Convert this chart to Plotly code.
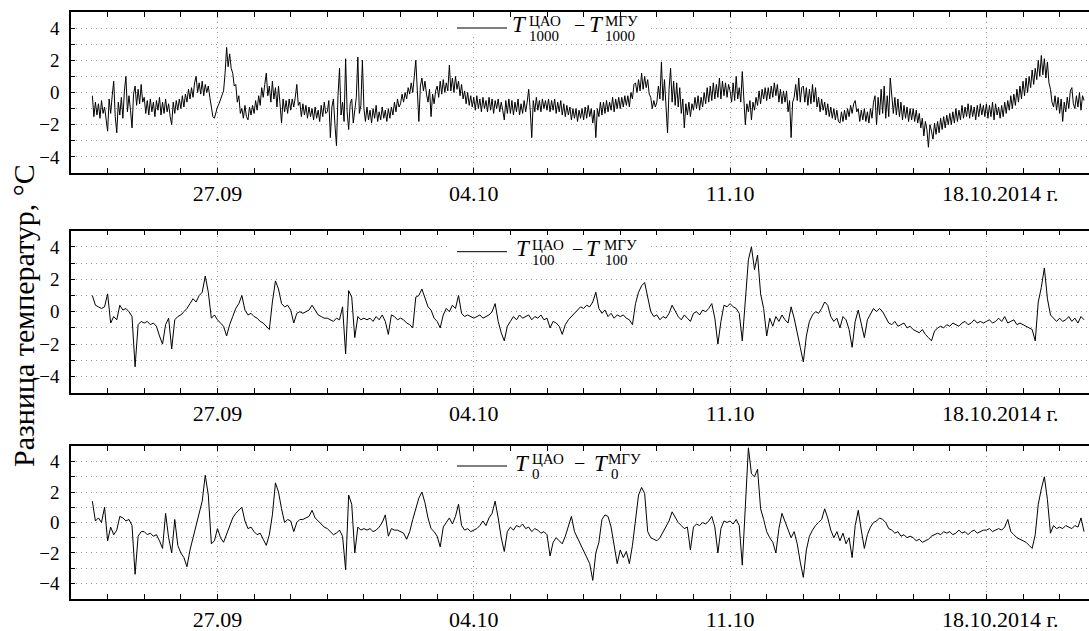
import pandas as pd
import plotly.graph_objects as go
from plotly.subplots import make_subplots

# ---------------- data ----------------
# T1000 difference: hourly samples starting 23.09.2014 14:00
start_time = "2014-09-23 14:00"
t1000 = [
    -0.2, -1.5, -0.6, -1.4, -0.7, -1.6, -0.5, -1.3, -0.9, -1.7,
    -2.4, -0.4, -1.3, -0.2, 0.7, -1.5, -2.5, -0.6, -1.4, -0.3, -1.6, 0.1, 1.0, -1.2, -0.2, -1.1, -2.2, -0.1, 0.4, -0.8, 0.2, -0.7, 0.5, -0.6,
    -0.3, -1.3, -0.5, -1.4, -0.4, -1.2, -0.6, -1.5, -0.5, -1.1, -0.3, -1.4, -0.6, -1.3, -0.4, -1.2, -0.7, -1.5, -2.0, -0.6, -1.3, -0.5, -1.1, -0.4,
    -1.0, -0.2, -0.9, -0.1, -0.6, 0.2, -0.4, 0.3, -0.3, 0.6, 1.0, 0.0, 0.6, -0.1, 0.7, -0.2, 0.5, 0.0, 0.4, -0.3, -1.0, -1.5, -1.6, -1.2,
    -0.9, -0.7, -0.4, -0.2, 0.1, 1.2, 2.8, 1.6, 2.4, 1.5, 1.2, 0.4, 0.5, -0.6, -0.2, -1.3, -1.0, -1.6, -0.8, -1.5, -1.7, -0.9, -1.4, -0.8,
    -1.3, -0.5, -1.1, -0.2, -0.8, 0.3, -0.3, 0.5, 1.2, -0.2, 0.4, -0.6, 0.7, -0.4, 0.3, -0.9, 0.4, -0.7, -1.9, -0.4, -1.2, -0.5, -1.3, -0.4,
    -1.1, -0.4, -0.9, -0.3, 0.5, -0.8, -0.6, -1.5, -0.7, -1.4, -0.8, -1.6, -0.9, -1.5, -1.0, -1.7, -0.9, -1.6, -1.1, -1.8, -0.8, -1.5, -0.6, -1.3,
    -1.2, -0.5, -2.8, -0.9, -0.4, -2.0, -3.3, -0.2, 1.5, -1.4, -0.6, -1.8, 2.1, -1.2, -2.3, -0.7, -0.4, -1.9, -1.2, -0.3, 2.2, -1.3, -0.8, 2.0,
    -1.0, -1.8, -0.9, -1.7, -1.1, -1.9, -1.0, -1.6, -0.8, -1.8, -1.2, -1.7, -0.9, -1.6, -1.1, -1.8, -1.0, -1.6, -0.9, -1.4, -0.6, -1.2, -0.4, -0.9,
    -0.7, -0.1, -0.6, 0.0, -0.4, 0.3, -0.1, 0.6, 0.0, 0.8, 2.0, 0.1, -1.8, 0.4, 0.9, 0.1, 0.7, -0.1, -0.6, 0.2, -1.5, -0.1, -0.7, 0.1,
    0.4, -0.3, 0.7, -0.1, 0.8, 0.0, 0.6, 0.1, 1.7, 0.1, 0.9, 0.0, 1.0, 0.2, 0.7, -0.2, 0.5, -0.4, 0.1, -0.7, 0.0, -0.8, -0.2, -0.9,
    -0.3, -1.1, -0.2, -1.0, -0.4, -1.2, -0.3, -1.0, -0.5, -1.2, -0.3, -1.1, -0.4, -1.3, -0.5, -1.0, -0.4, -1.2, -0.6, -1.1, -1.7, -0.5, -1.3, -0.4,
    -1.3, -0.5, -1.4, -0.6, -1.2, -0.4, -1.4, -0.7, -1.3, -0.5, -1.2, -0.6, 0.2, -1.1, -2.8, -0.5, -1.2, -0.3, -1.1, -0.5, -1.2, -0.4, -1.0, -0.5,
    -1.1, -0.4, -1.2, -0.5, -1.1, -0.4, -1.3, -0.6, -1.2, -0.5, -1.4, -0.7, -1.5, -0.8, -1.4, -0.9, -1.7, -1.0, -1.6, -1.0, -1.8, -1.1, -1.6, -1.0,
    -1.7, -0.9, -1.6, -0.8, -1.5, -1.0, -1.9, -1.1, -2.8, -1.0, -1.5, -0.6, -1.4, -0.6, -1.3, -0.5, -1.2, -0.6, -1.1, -0.3, -1.2, -0.4, -1.0, -0.3,
    -1.0, -0.3, -0.9, -0.2, -0.8, -0.2, -0.9, 0.0, -0.4, 0.5, 0.6, 0.0, 0.8, 0.1, 1.2, 0.2, 1.0, 0.3, 0.8, -0.1, -0.3, -1.0, -0.5, -0.9,
    -0.6, 0.4, -0.4, 1.9, -0.5, 0.8, -1.0, -2.5, 0.2, 1.5, -0.6, 0.7, -0.8, 0.6, -0.9, 0.3, -1.3, -0.4, -2.2, -0.7, -1.4, -0.6, -1.5, -0.7,
    -1.1, -0.3, -1.0, -0.2, -1.1, -0.3, -0.9, 0.0, -0.7, 0.3, -0.6, 0.4, -0.5, 0.6, -0.4, 0.5, -0.3, 0.9, -0.4, 0.7, -0.2, 0.6, -0.3, 0.5,
    0.1, -0.6, 0.6, -0.5, 1.0, -0.4, 0.3, -0.6, 1.3, -0.5, -2.0, -0.7, -1.2, -0.5, -1.7, -0.6, -1.1, -0.3, -0.8, 0.1, -0.7, 0.2, -0.4, 0.3,
    -0.5, 0.3, -0.4, 0.4, -0.3, 0.6, -0.2, 0.5, -0.6, 0.2, -0.7, 0.1, -0.6, 0.1, -1.2, -0.5, -2.8, -0.6, -0.3, 0.5, -0.5, 0.9, -0.6, 0.3,
    0.4, -0.6, 0.3, -0.8, 0.2, -0.7, 0.5, -0.6, 0.3, -0.9, -0.3, -1.2, -0.4, -1.1, -0.6, -1.4, -0.7, -1.5, -0.9, -1.6, -1.0, -1.7, -1.1, -1.8,
    -1.9, -1.2, -1.8, -1.1, -1.7, -1.0, -1.5, -0.8, -1.3, -0.7, -0.5, -1.2, -1.0, -1.8, -1.1, -1.7, -1.0, -1.8, -1.2, -1.9, -1.0, -1.6, -0.6, -0.2,
    -2.0, -0.3, -1.4, 0.2, -1.3, 0.4, -1.6, -0.2, -1.5, 0.9, -0.5, -1.3, -0.3, -1.4, -0.4, -1.5, -0.6, -1.7, -0.8, -1.6, -0.9, -1.8, -1.0, -1.7,
    -1.0, -1.8, -1.1, -1.9, -1.3, -2.2, -1.6, -2.7, -1.8, -2.3, -3.4, -2.0, -2.4, -2.9, -1.9, -2.6, -1.8, -2.5, -1.6, -2.3, -1.5, -2.2, -1.4, -2.0,
    -1.3, -2.0, -1.2, -1.9, -1.0, -1.8, -1.1, -1.7, -0.8, -1.6, -0.9, -1.5, -0.7, -1.6, -0.8, -1.5, -0.9, -1.7, -0.8, -1.5, -0.7, -1.4, -0.8, -1.5,
    -0.7, -1.6, -0.8, -1.5, -0.6, -1.7, -0.7, -1.4, -0.9, -1.6, -0.8, -1.5, -0.6, -1.3, -0.5, -1.1, -0.2, -1.0, -0.1, -0.8, 0.2, -0.6, 0.4, -0.4,
    0.7, -0.2, 0.9, 0.0, 1.0, 0.3, 1.4, 0.5, 1.5, 0.8, 2.0, 1.0, 2.3, 1.1, 2.1, 0.9, 1.9, 0.6, 0.2, -0.6, -0.9, -0.2, -1.1, -0.3,
    -1.3, -0.4, -1.8, -0.6, -1.2, -0.3, -1.0, 0.1, 0.3, -0.7, -1.0, -0.2, -0.9, 0.0, -1.1, -0.2, -0.5,
]

# T100 and T0 differences: 2-hourly samples starting 23.09.2014 14:00
t100 = [
    1.0, 0.4, 0.3, 0.2, 0.3,
    1.1, -0.7, -0.3, -0.5, 0.4, 0.1, 0.2, 0.0, -0.3, -3.4, -0.8, -0.6,
    -0.7, -0.6, -0.8, -0.7, -0.9, -1.5, -2.0, -0.8, -0.4, -2.3, -0.5, -0.3,
    -0.2, 0.0, 0.2, 0.5, 0.8, 0.6, 1.0, 1.2, 2.2, 1.2, -0.4, -0.2,
    -0.5, -0.7, -0.9, -1.5, -0.8, -0.3, 0.2, 0.5, 1.0, 0.1, -0.2, -0.1,
    -0.3, -0.4, -0.6, -0.7, -0.9, -1.1, 0.6, 1.9, 1.4, 0.5, 0.3, 0.4,
    0.1, -0.7, -0.1, 0.0, -0.1, 0.0, 0.1, 0.4, 0.1, -0.2, -0.3, -0.4,
    -0.4, -0.5, -0.6, -0.4, -0.5, 0.3, -2.6, 1.3, 0.9, -1.6, -0.3, -0.5,
    -0.4, -0.5, -0.4, -0.6, -0.3, -0.5, -0.2, -0.6, -1.4, -0.2, -0.3, -0.5,
    -0.4, -0.5, -0.7, -0.8, -1.0, 0.9, 1.0, 1.4, 0.9, 0.3, 0.1, -0.4,
    -0.6, -1.0, -0.2, 0.2, 0.0, 0.4, 0.2, 1.0, -0.1, -0.3, -0.2, -0.3,
    -0.4, -0.3, -0.2, -0.4, -0.3, -0.2, 0.0, 0.5, -0.6, -1.3, -1.8, -0.9,
    -0.6, -0.3, -0.5, -0.2, -0.4, -0.3, -0.2, -0.5, -0.3, -0.4, -0.2, -0.5,
    -0.4, -1.0, -0.6, -0.7, -0.9, -1.4, -0.8, -0.5, -0.3, -0.1, 0.1, 0.3,
    0.2, 0.4, 0.3, 0.6, 1.2, 0.2, -0.1, 0.1, -0.3, -0.1, -0.4, -0.2,
    -0.3, -0.2, -0.4, -0.5, -0.8, 0.5, 1.2, 1.6, 1.8, 0.9, 0.0, -0.3,
    -0.2, -0.5, -0.3, -0.4, -0.1, 0.4, 0.0, -0.3, -0.5, -0.2, -0.4, -0.6,
    -0.1, 0.0, -0.2, 0.1, 0.0, 0.2, 0.5, -0.4, -2.0, -0.6, 0.4, 0.3,
    0.5, 0.3, 0.2, -0.1, -1.8, 0.9, 3.2, 4.0, 2.6, 3.5, 1.1, 0.2,
    -1.5, -0.4, -0.9, -0.3, -0.6, -0.2, -0.5, -0.7, 0.3, -0.4, -1.2, -2.2,
    -3.1, -1.5, -0.6, -0.2, 0.0, -0.1, 0.2, 0.6, 0.4, -0.3, -0.6, -0.4,
    -1.0, -0.3, -0.5, -1.1, -2.2, -0.6, 0.1, -0.8, -1.6, -0.5, -0.1, 0.2,
    0.0, 0.2, 0.0, -0.4, -0.7, -0.8, -0.6, -0.9, -0.8, -0.7, -1.0, -0.9,
    -1.1, -1.2, -1.3, -1.1, -1.4, -1.6, -1.8, -1.2, -1.0, -0.9, -1.0, -0.8,
    -0.9, -0.7, -0.8, -0.9, -0.7, -0.6, -0.8, -0.7, -0.5, -0.7, -0.6, -0.7,
    -0.6, -0.5, -0.7, -0.6, -0.4, -0.6, -0.3, -0.7, -0.6, -0.5, -0.8, -0.7,
    -0.8, -0.9, -1.0, -1.1, -1.8, 0.6, 1.5, 2.7, 0.8, -0.2, -0.4, -0.6,
    -0.4, -0.6, -0.5, -0.3, -0.6, -0.4, -0.7, -0.3, -0.5,
]

t0 = [
    1.4, 0.1, 0.3, 0.0, 1.0,
    -1.2, -0.3, -0.8, -0.5, 0.4, 0.3, 0.1, 0.2, -0.2, -3.4, -0.9, -0.6,
    -0.6, -0.8, -0.7, -0.9, -0.8, -1.2, -1.7, 0.6, -1.0, -2.0, 0.2, -1.5,
    -2.0, -2.3, -2.9, -1.8, -1.0, 0.0, 0.7, 1.4, 3.1, 1.8, -1.4, -1.2,
    -0.4, -1.0, -1.3, -0.8, -0.2, 0.3, 0.6, 0.8, 1.0, 0.1, -0.4, -0.3,
    -0.6, -0.8, -0.7, -1.1, -1.5, -0.8, 0.5, 2.6, 2.0, 0.9, 0.0, 0.2,
    0.1, -0.6, 0.0, 0.2, 0.2, 0.3, 0.4, 0.8, 0.3, 0.1, -0.1, -0.3,
    -0.4, -0.6, -0.8, -0.7, -0.5, -0.9, -3.1, 1.8, 1.2, -2.0, -0.3, -0.5,
    -0.4, -0.5, -0.4, -0.6, -0.5, -0.3, 0.0, 0.5, -0.9, -0.4, -0.5, -0.5,
    -0.6, -0.7, -1.1, -0.6, 0.2, 0.9, 1.6, 2.0, 1.3, 0.3, -0.4, -0.6,
    -0.9, -1.6, -0.3, 0.0, 0.3, -0.1, 0.4, 1.2, -0.2, -0.5, -0.4, -0.6,
    -0.5, -0.4, -0.2, 0.1, -0.2, 0.3, 0.6, 1.4, 0.3, -1.0, -1.9, -0.6,
    -0.3, -0.5, -0.2, -0.3, -0.1, -0.4, -0.3, -0.6, -0.4, -0.5, -0.7, -0.6,
    -0.8, -2.2, -1.3, -1.0, -1.2, -1.4, -0.9, -0.3, 0.4, -0.6, -1.0, -1.5,
    -1.9, -2.2, -2.7, -3.8, -2.0, -1.3, 0.2, 0.5, 0.4, -0.3, -1.5, -2.7,
    -1.8, -2.3, -1.9, -2.7, -1.5, 0.3, 1.8, 2.3, 1.9, -0.6, -1.0, -1.1,
    -1.2, -1.0, -0.6, -0.3, 0.1, 0.7, 0.3, 0.0, -0.2, -0.4, -0.3, -1.8,
    -0.3, -0.1, -0.2, 0.0, -0.1, 0.1, 0.4, -0.3, -2.0, -0.4, 0.1, 0.0,
    0.1, -0.1, 0.2, -0.2, -2.8, 1.5, 4.9, 3.2, 3.0, 3.5, 0.9, 0.2,
    -0.6, -1.0, -1.3, -2.0, -0.4, 0.6, 0.1, -0.4, -1.0, -0.6, -1.4, -2.6,
    -3.6, -1.8, -0.9, -0.5, -0.2, 0.0, 0.2, 0.9, 0.3, -0.5, -1.0, -0.6,
    -1.2, -0.7, -1.4, -1.0, -2.3, -0.2, 0.8, -0.5, -1.7, -0.8, -0.3, 0.0,
    0.1, 0.3, 0.2, 0.0, -0.4, -0.5, -0.7, -0.6, -0.9, -0.8, -1.0, -0.9,
    -1.0, -1.2, -1.1, -1.3, -1.2, -1.1, -0.9, -0.8, -0.7, -0.8, -0.6, -0.7,
    -0.6, -0.8, -0.7, -0.5, -0.7, -0.6, -0.8, -0.6, -0.5, -0.7, -0.6, -0.5,
    -0.5, -0.4, -0.6, -0.5, -0.4, -0.5, -0.3, 0.2, -0.6, -0.8, -1.0, -1.1,
    -1.2, -1.3, -1.5, -1.7, -0.8, 1.2, 2.2, 3.0, 1.5, -0.7, -0.2, -0.4,
    -0.3, -0.4, -0.2, -0.3, -0.4, -0.2, -0.3, 0.3, -0.6,
]

tick_dates = ["2014-09-27", "2014-10-04", "2014-10-11", "2014-10-18"]
tick_labels = ["27.09", "04.10", "11.10", "\u00a0\u00a0\u00a0\u00a0\u00a018.10.2014 г."]
y_tick_vals = [-4, -2, 0, 2, 4]
y_tick_text = ["\u22124", "\u22122", "0", "2", "4"]
y_minor_vals = [-3, -1, 1, 3]
x_range = ["2014-09-23 00:00", "2014-10-20 19:15"]
y_range = [-5, 5]

subscripts = ["1000", "100", "0"]
sup_left = "ЦАО"
sup_right = "МГУ"
y_title = "Разница температур, °С"

# ---------------- figure ----------------
W, H, L = 1089, 631, 71
FONT = "Liberation Serif, Times New Roman, serif"
GRID = "#9a9a9a"
DASH = "1px,4px"

fig = make_subplots(rows=3, cols=1)

series = [
    (pd.date_range(start_time, periods=len(t1000), freq="1h"), t1000, 1.0),
    (pd.date_range(start_time, periods=len(t100), freq="2h"), t100, 1.0),
    (pd.date_range(start_time, periods=len(t0), freq="2h"), t0, 1.0),
]
daily = pd.date_range("2014-09-23", "2014-10-21", freq="D")

for i, (tx, vals, lw) in enumerate(series):
    fig.add_trace(go.Scatter(x=tx, y=vals, mode="lines",
                             line=dict(color="black", width=lw),
                             showlegend=False, hoverinfo="skip"),
                  row=i + 1, col=1)

# panel pixel boxes (top, bottom)
panels = [(12.0, 173.0), (230.7, 392.7), (446.3, 598.7)]


def px_x(px):
    return (px - L) / (W - L)


def px_y(py):
    return 1 - py / H


for i, (top, bot) in enumerate(panels):
    xa = "xaxis" if i == 0 else f"xaxis{i+1}"
    ya = "yaxis" if i == 0 else f"yaxis{i+1}"
    fig.update_layout({
        xa: dict(
            domain=[0, 1],
            type="date", range=x_range, tickmode="array",
            tickvals=tick_dates, ticktext=tick_labels,
            ticks="inside", ticklen=5, tickwidth=1, tickcolor="black",
            showline=True, linecolor="black", linewidth=1.5, mirror="allticks",
            showgrid=True, gridcolor=GRID, gridwidth=1, griddash=DASH,
            zeroline=False, ticklabelstandoff=0,
            tickfont=dict(family=FONT, size=22, color="black"),
            minor=dict(tickmode="array", tickvals=list(daily), ticks="inside",
                       ticklen=5, tickwidth=1, tickcolor="black", showgrid=False),
        ),
        ya: dict(
            domain=[px_y(bot), px_y(top)],
            range=y_range, tickmode="array", tickvals=y_tick_vals, ticktext=y_tick_text,
            ticks="inside", ticklen=4, tickwidth=1, tickcolor="black",
            showline=True, linecolor="black", linewidth=1.5, mirror=False,
            showgrid=True, gridcolor=GRID, gridwidth=1, griddash=DASH,
            zeroline=False, ticklabelstandoff=6,
            tickfont=dict(family=FONT, size=19, color="black"),
            minor=dict(tickmode="array", tickvals=y_minor_vals, ticks="inside",
                       ticklen=4, tickwidth=1, tickcolor="black",
                       showgrid=True, gridcolor=GRID, gridwidth=1, griddash=DASH),
        ),
    })

# legend-like labels (drawn manually so super- and subscripts stack)
legend_y = [28.0, 251.7, 466.0]
legend_x = [  # line start, line end, T1, sup1, sub1, minus, T2, sup2, sub2
    (457, 507, 510, 527, 527, 572, 587, 603, 603),
    (457, 507, 514, 530, 530, 570, 584, 602, 603),
    (457, 507, 513, 530, 530, 572, 592, 606, 609),
]
annotations = []
shapes = []
for i, ly in enumerate(legend_y):
    xs = legend_x[i]
    shapes.append(dict(type="rect", xref="paper", yref="paper", layer="above",
                       x0=px_x(450), x1=px_x(648),
                       y0=px_y(ly + 9), y1=px_y(ly - 11),
                       fillcolor="white", line=dict(width=0)))
    shapes.append(dict(type="line", xref="paper", yref="paper", layer="above",
                       x0=px_x(xs[0]), x1=px_x(xs[1]), y0=px_y(ly), y1=px_y(ly),
                       line=dict(color="black", width=1)))
    sub = subscripts[i]
    pieces = [
        ("<i>T</i>", xs[2], ly - 3, 23),
        (sup_left, xs[3], ly - 7, 15),
        (sub, xs[4], ly + 8, 15),
        ("\u2212", xs[5], ly - 3, 20),
        ("<i>T</i>", xs[6], ly - 3, 23),
        (sup_right, xs[7], ly - 7, 15),
        (sub, xs[8], ly + 8, 15),
    ]
    for txt, px, py, fs in pieces:
        annotations.append(dict(text=txt, xref="paper", yref="paper",
                                x=px_x(px), y=px_y(py), xanchor="left", yanchor="middle",
                                showarrow=False,
                                font=dict(family=FONT, size=fs, color="black")))

annotations.append(dict(text=y_title, xref="paper", yref="paper",
                        x=px_x(23), y=px_y(316), xanchor="center", yanchor="middle",
                        textangle=-90, showarrow=False,
                        font=dict(family=FONT, size=30, color="black")))

fig.update_layout(
    width=W, height=H,
    margin=dict(l=L, r=0, t=0, b=0),
    paper_bgcolor="white", plot_bgcolor="white",
    showlegend=False,
    annotations=annotations, shapes=shapes,
    font=dict(family=FONT, color="black"),
)

fig.write_html("out.html", config={"displayModeBar": False},
               post_script="document.body.style.margin='0';")
